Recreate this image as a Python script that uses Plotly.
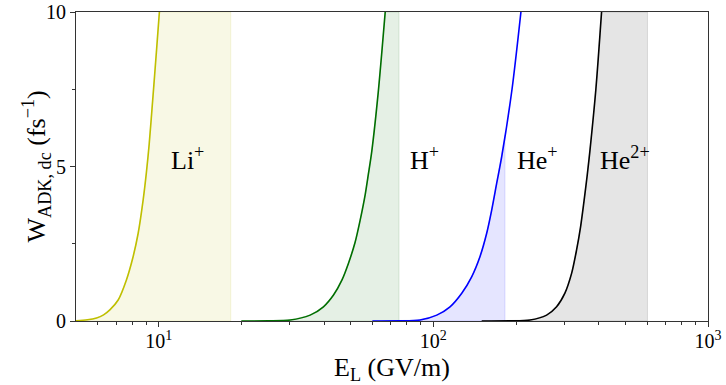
import numpy as np
import plotly.graph_objects as go

# DC ADK ionization rate (fs^-1) versus laser field E_L (GV/m)
li_field = [5.0, 5.5, 5.94, 6.3, 6.64, 7.12, 7.63, 8.07, 8.42, 8.78, 9.02, 9.23, 9.54, 9.81, 10.06]
li_rate = [0.01, 0.04, 0.1, 0.2, 0.36, 0.68, 1.33, 2.08, 2.84, 3.92, 4.8, 5.7, 7.3, 8.7, 10.0]

h_field = [20.0, 25.0, 30.1, 35.6, 39.8, 43.3, 46.5, 49.1, 51.9, 54.1, 56.5, 58.0, 59.7, 63.0, 66.8]
h_rate = [0.0, 0.005, 0.03, 0.19, 0.46, 0.84, 1.33, 1.87, 2.55, 3.25, 4.1, 4.75, 5.5, 7.4, 10.0]

he1_field = [60.0, 75.0, 89.4, 102.9, 115.0, 126.9, 137.9, 147.8, 156.4, 163.1, 170.1, 177.4, 193.4, 208.4]
he1_rate = [0.0, 0.005, 0.03, 0.19, 0.46, 0.9, 1.43, 2.08, 2.84, 3.59, 4.46, 5.32, 7.5, 10.0]

he2_field = [150.0, 190.0, 224.8, 258.5, 281.0, 301.3, 318.7, 332.3, 343.6, 353.3, 363.1, 371.5, 390.6, 409.7]
he2_rate = [0.0, 0.005, 0.03, 0.19, 0.46, 0.9, 1.54, 2.3, 3.05, 3.85, 4.7, 5.5, 7.5, 10.0]

# right-hand limit of each shaded band
band_edges = [18.3, 75.0, 182.3, 602.0]
ion_labels = ["Li<sup>+</sup>", "H<sup>+</sup>", "He<sup>+</sup>", "He<sup>2+</sup>"]
label_pos = [12.7, 92.5, 240.0, 498.0]
label_rate = 5.27

x_ticks = [10, 100, 1000]
x_ticktext = ["10<sup>1</sup>", "10<sup>2</sup>", "10<sup>3</sup>"]
x_minor = [6, 7, 8, 9, 20, 30, 40, 50, 60, 70, 80, 90, 200, 300, 400, 500, 600, 700, 800, 900]
y_ticks = [0, 5, 10]

x_min, x_max = 5.0, 1000.0
y_min, y_max = 0.0, 10.0

series = [
    (li_field, li_rate, (191, 191, 0)),
    (h_field, h_rate, (0, 110, 0)),
    (he1_field, he1_rate, (0, 0, 255)),
    (he2_field, he2_rate, (0, 0, 0)),
]

FONT = "Liberation Serif"
fig = go.Figure()

# shaded bands under each curve, up to its edge field
for (xs, ys, rgb), edge in zip(series, band_edges):
    xs = np.array(xs)
    ys = np.array(ys)
    keep = xs < edge
    top = float(np.interp(np.log10(edge), np.log10(xs), ys, right=y_max))
    px = list(xs[keep]) + [edge, edge, xs[0]]
    py = list(ys[keep]) + [top, 0.0, 0.0]
    r, g, b = rgb
    fig.add_trace(go.Scatter(
        x=px, y=py, mode="lines", fill="toself",
        fillcolor=f"rgba({r},{g},{b},0.1)",
        line=dict(color=f"rgba({r},{g},{b},0.12)", width=1),
        hoverinfo="skip", showlegend=False,
    ))

# rate curves
for xs, ys, rgb in series:
    r, g, b = rgb
    fig.add_trace(go.Scatter(
        x=xs, y=ys, mode="lines",
        line=dict(color=f"rgb({r},{g},{b})", width=1.6, shape="spline", smoothing=0.8),
        showlegend=False,
    ))

annotations = []
for text, xv in zip(ion_labels, label_pos):
    annotations.append(dict(
        x=np.log10(xv), y=label_rate, xref="x", yref="y", text=text,
        showarrow=False, font=dict(family=FONT, size=26, color="black"),
        xanchor="center", yanchor="middle",
    ))

annotations.append(dict(
    x=0.5, y=0, xref="paper", yref="paper", yanchor="top", xanchor="center",
    yshift=-30, text="E<sub>L</sub> (GV/m)", showarrow=False,
    font=dict(family=FONT, size=26, color="black"),
))
annotations.append(dict(
    x=0, y=0.5, xref="paper", yref="paper", xanchor="right", yanchor="middle",
    xshift=-20, textangle=-90, text="W<sub>ADK, dc</sub> (fs<sup>\u22121</sup>)",
    showarrow=False, font=dict(family=FONT, size=26, color="black"),
))

axis_line = "#333333"
fig.update_layout(
    width=726, height=385,
    margin=dict(l=76, r=18, t=12, b=64),
    plot_bgcolor="white", paper_bgcolor="white",
    font=dict(family=FONT, size=20, color="black"),
    annotations=annotations,
    xaxis=dict(
        type="log", range=[np.log10(x_min), np.log10(x_max)],
        tickvals=x_ticks, ticktext=x_ticktext, automargin=False,
        ticks="outside", ticklen=5, tickwidth=1, tickcolor=axis_line,
        ticklabelstandoff=-3,
        minor=dict(tickvals=x_minor, ticks="outside", ticklen=3, tickwidth=0.8, tickcolor=axis_line),
        showline=True, mirror=True, linecolor=axis_line, linewidth=1,
        showgrid=False, zeroline=False,
        tickfont=dict(family=FONT, size=20),
    ),
    yaxis=dict(
        range=[y_min, y_max], tickvals=y_ticks, automargin=False,
        ticks="outside", ticklen=5, tickwidth=1, tickcolor=axis_line,
        minor=dict(dtick=2.5, ticks="outside", ticklen=3, tickwidth=0.8, tickcolor=axis_line),
        showline=True, mirror=True, linecolor=axis_line, linewidth=1,
        showgrid=False, zeroline=False,
        tickfont=dict(family=FONT, size=20),
    ),
)

fig.write_html("out.html")
